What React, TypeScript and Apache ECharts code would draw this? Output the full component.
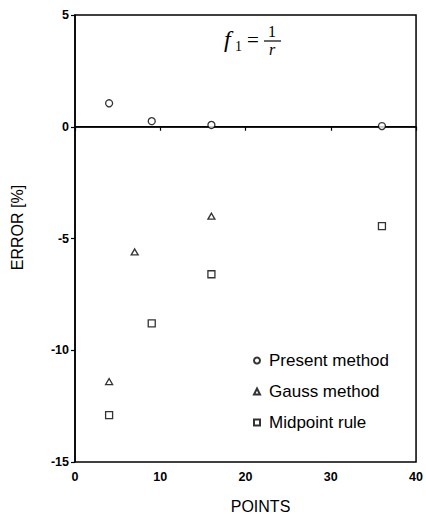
import React, { useEffect, useRef } from "react";
import * as echarts from "echarts";

const xTicks = [0, 10, 20, 30, 40];
const yTicks = [-15, -10, -5, 0, 5];
const seriesNames = ["Present method", "Gauss method", "Midpoint rule"];
const presentMethod: [number, number][] = [
  [4, 1.05],
  [9, 0.25],
  [16, 0.08],
  [36, 0.03],
];
const gaussMethod: [number, number][] = [
  [4, -11.4],
  [7, -5.6],
  [16, -4.0],
];
const midpointRule: [number, number][] = [
  [4, -12.9],
  [9, -8.8],
  [16, -6.6],
  [36, -4.45],
];
const zeroLine: [number, number][] = [
  [0, 0],
  [40, 0],
];

const narrow = "'Liberation Sans Narrow', 'Liberation Sans', Arial, sans-serif";
const sans = "'Liberation Sans', Arial, sans-serif";
const serif = "'Liberation Serif', 'Times New Roman', serif";

export default function App() {
  const ref = useRef<HTMLDivElement>(null);
  useEffect(() => {
    if (!ref.current) return;
    const chart = echarts.init(ref.current, undefined, { renderer: "svg" });
    const markerStyle = { color: "#fff", borderColor: "#000", borderWidth: 1.3 };
    chart.setOption({
      animation: false,
      backgroundColor: "#fff",
      grid: {
        left: 75,
        right: 4.5,
        top: 15,
        bottom: 54,
        show: true,
        borderColor: "#000",
        borderWidth: 1.5,
        backgroundColor: "transparent",
      },
      xAxis: {
        type: "value",
        min: xTicks[0],
        max: xTicks[xTicks.length - 1],
        interval: 10,
        name: "POINTS",
        nameLocation: "middle",
        nameGap: 36,
        nameTextStyle: {
          fontFamily: sans,
          fontSize: 16,
          color: "#000",
          padding: [0, 0, 0, 30],
        },
        axisLine: { show: true, lineStyle: { color: "#000", width: 1.5 } },
        axisTick: { show: true, inside: false, length: 4, lineStyle: { color: "#000", width: 1.2 } },
        axisLabel: {
          color: "#000",
          fontFamily: narrow,
          fontWeight: "bold",
          fontSize: 12.5,
          margin: 8,
        },
        splitLine: { show: false },
      },
      yAxis: {
        type: "value",
        min: yTicks[0],
        max: yTicks[yTicks.length - 1],
        interval: 5,
        name: "ERROR [%]",
        nameLocation: "middle",
        nameGap: 50,
        nameTextStyle: {
          fontFamily: sans,
          fontSize: 16,
          color: "#000",
          padding: [0, 0, 0, 22],
        },
        axisLine: { show: true, lineStyle: { color: "#000", width: 1.5 } },
        axisTick: { show: true, inside: false, length: 4, lineStyle: { color: "#000", width: 1.2 } },
        axisLabel: {
          color: "#000",
          fontFamily: narrow,
          fontWeight: "bold",
          fontSize: 12.5,
          margin: 6,
        },
        splitLine: { show: false },
      },
      legend: {
        data: seriesNames,
        orient: "vertical",
        left: 248,
        top: 347,
        itemWidth: 6,
        itemHeight: 6,
        itemGap: 14,
        textStyle: {
          fontFamily: sans,
          fontSize: 17,
          lineHeight: 17,
          color: "#000",
          padding: [0, 0, 0, 4],
        },
      },
      graphic: [
        {
          type: "text",
          x: 224,
          y: 39,
          style: {
            text: "f",
            font: `italic 24px ${serif}`,
            fill: "#000",
            textAlign: "left",
            textVerticalAlign: "middle",
          },
        },
        {
          type: "text",
          x: 235,
          y: 46,
          style: {
            text: "1",
            font: `14px ${serif}`,
            fill: "#000",
            textAlign: "left",
            textVerticalAlign: "middle",
          },
        },
        {
          type: "text",
          x: 253,
          y: 40,
          style: {
            text: "=",
            font: `21px ${serif}`,
            fill: "#000",
            textAlign: "center",
            textVerticalAlign: "middle",
          },
        },
        {
          type: "text",
          x: 272,
          y: 31.5,
          style: {
            text: "1",
            font: `16px ${serif}`,
            fill: "#000",
            textAlign: "center",
            textVerticalAlign: "middle",
          },
        },
        {
          type: "line",
          shape: { x1: 264, y1: 41, x2: 281, y2: 41 },
          style: { stroke: "#000", lineWidth: 1.2 },
        },
        {
          type: "text",
          x: 272,
          y: 49.5,
          style: {
            text: "r",
            font: `italic 16px ${serif}`,
            fill: "#000",
            textAlign: "center",
            textVerticalAlign: "middle",
          },
        },
      ],
      series: [
        {
          name: "zero",
          type: "line",
          data: zeroLine,
          showSymbol: false,
          symbol: "none",
          silent: true,
          z: 1,
          lineStyle: { color: "#000", width: 1.5 },
        },
        {
          name: seriesNames[0],
          type: "scatter",
          data: presentMethod,
          symbol: "circle",
          symbolSize: 7,
          itemStyle: markerStyle,
          z: 3,
        },
        {
          name: seriesNames[1],
          type: "scatter",
          data: gaussMethod,
          symbol: "triangle",
          symbolSize: [7, 6],
          itemStyle: markerStyle,
          z: 3,
        },
        {
          name: seriesNames[2],
          type: "scatter",
          data: midpointRule,
          symbol: "rect",
          symbolSize: 7,
          itemStyle: markerStyle,
          z: 3,
        },
      ],
    });
    return () => chart.dispose();
  }, []);
  return (
    <div
      ref={ref}
      style={{ position: "fixed", left: 0, top: 0, width: 426, height: 519, background: "#fff" }}
    />
  );
}
